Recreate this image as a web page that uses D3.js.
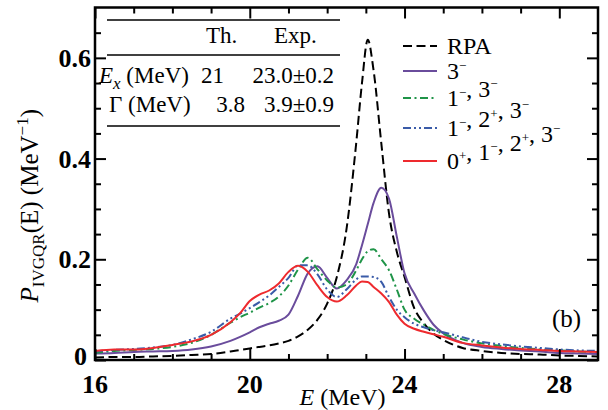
<!DOCTYPE html>
<html>
<head>
<meta charset="utf-8">
<script src="https://cdn.jsdelivr.net/npm/d3@7"></script>
<style>
  body { margin: 0; background: #fff; }
  svg { font-family: "Liberation Serif", "DejaVu Serif", serif; }
</style>
</head>
<body>
<div id="chart"></div>
<script>
// energy grid (MeV)
var energy = [16, 16.5, 17, 17.5, 18, 18.5, 19, 19.5, 19.75, 20, 20.25, 20.5, 20.75, 21, 21.25, 21.5, 21.75, 22, 22.25, 22.5, 22.75, 22.9, 23.05, 23.2, 23.4, 23.6, 23.8, 24, 24.25, 24.5, 24.75, 25, 25.5, 26, 26.5, 27, 27.5, 28, 28.5, 29];

// strength functions (MeV^-1)
var rpa   = [0.005, 0.006, 0.006, 0.007, 0.008, 0.010, 0.012, 0.017, 0.020, 0.023, 0.026, 0.029, 0.033, 0.038, 0.047, 0.060, 0.080, 0.112, 0.165, 0.260, 0.430, 0.550, 0.636, 0.575, 0.430, 0.290, 0.215, 0.165, 0.103, 0.073, 0.052, 0.040, 0.024, 0.018, 0.014, 0.012, 0.011, 0.009, 0.008, 0.007];
var only3 = [0.013, 0.014, 0.016, 0.017, 0.018, 0.021, 0.027, 0.038, 0.046, 0.055, 0.065, 0.072, 0.078, 0.090, 0.128, 0.172, 0.186, 0.163, 0.142, 0.158, 0.190, 0.228, 0.270, 0.312, 0.342, 0.320, 0.245, 0.172, 0.132, 0.098, 0.070, 0.053, 0.034, 0.026, 0.022, 0.019, 0.017, 0.014, 0.013, 0.012];
var m1m3  = [0.0145, 0.018, 0.020, 0.022, 0.026, 0.034, 0.050, 0.074, 0.085, 0.094, 0.104, 0.113, 0.126, 0.148, 0.180, 0.203, 0.180, 0.158, 0.144, 0.150, 0.178, 0.200, 0.216, 0.220, 0.200, 0.178, 0.140, 0.100, 0.082, 0.070, 0.060, 0.052, 0.041, 0.033, 0.028, 0.024, 0.021, 0.019, 0.017, 0.016];
var m1p2m3 = [0.017, 0.020, 0.022, 0.025, 0.030, 0.041, 0.056, 0.082, 0.092, 0.103, 0.115, 0.128, 0.145, 0.163, 0.188, 0.188, 0.170, 0.140, 0.125, 0.140, 0.160, 0.166, 0.166, 0.165, 0.155, 0.125, 0.100, 0.085, 0.072, 0.065, 0.059, 0.055, 0.045, 0.036, 0.031, 0.027, 0.024, 0.021, 0.019, 0.018];
var all4  = [0.018, 0.021, 0.021, 0.024, 0.030, 0.037, 0.050, 0.075, 0.093, 0.117, 0.130, 0.138, 0.152, 0.175, 0.187, 0.175, 0.148, 0.125, 0.116, 0.128, 0.148, 0.156, 0.155, 0.145, 0.132, 0.115, 0.090, 0.072, 0.062, 0.056, 0.051, 0.046, 0.034, 0.029, 0.025, 0.022, 0.020, 0.018, 0.017, 0.016];

var xTicks = [16, 20, 24, 28];
var yTicks = [0, 0.2, 0.4, 0.6];
var yTickLabels = ["0", "0.2", "0.4", "0.6"];

// legend labels: [text, superscript] pieces
var legendLabels = [
  [["RPA", ""]],
  [["3", "\u2212"]],
  [["1", "\u2212"], [", 3", "\u2212"]],
  [["1", "\u2212"], [", 2", "+"], [", 3", "\u2212"]],
  [["0", "+"], [", 1", "\u2212"], [", 2", "+"], [", 3", "\u2212"]]
];

var series = [
  {values: rpa,    color: "#000",    dash: "9,4.5"},
  {values: only3,  color: "#6a4c9c", dash: null},
  {values: m1m3,   color: "#1f9448", dash: "8,3.5,2,3.5"},
  {values: m1p2m3, color: "#3a5ba8", dash: "8,3,2,3,2,3"},
  {values: all4,   color: "#ee2a2e", dash: null}
];

var width = 608, height = 410;
var margin = {left: 95, right: 10, top: 7.5, bottom: 50};

var svg = d3.select("#chart").append("svg")
  .attr("width", width)
  .attr("height", height);

var x = d3.scaleLinear().domain([16, 29]).range([margin.left, width - margin.right]);
var y = d3.scaleLinear().domain([0, 0.7]).range([height - margin.bottom, margin.top]);

svg.append("clipPath").attr("id", "clip")
  .append("rect")
  .attr("x", x(16)).attr("y", y(0.7))
  .attr("width", x(29) - x(16)).attr("height", y(0) - y(0.7));

// curves
var line = d3.line()
  .x(function(d, i) { return x(energy[i]); })
  .y(function(d) { return y(d); })
  .curve(d3.curveMonotoneX);

var plot = svg.append("g").attr("clip-path", "url(#clip)");
series.forEach(function(s) {
  plot.append("path")
    .attr("d", line(s.values))
    .attr("fill", "none")
    .attr("stroke", s.color)
    .attr("stroke-width", 2)
    .attr("stroke-dasharray", s.dash);
});

// axes, ticks pointing inward on all four sides
function tickAxis(axisFn, scale, major, minor, transform) {
  svg.append("g").attr("transform", transform)
    .call(axisFn(scale).tickValues(minor).tickSize(-6).tickFormat(""))
    .call(function(g) { g.select(".domain").remove(); });
  svg.append("g").attr("transform", transform)
    .call(axisFn(scale).tickValues(major).tickSize(-11).tickFormat(""))
    .call(function(g) { g.select(".domain").remove(); });
}
var xMinor = d3.range(17, 29, 1).filter(function(v) { return v % 4 !== 0; });
var yMinor = [0.05, 0.1, 0.15, 0.25, 0.3, 0.35, 0.45, 0.5, 0.55, 0.65];

tickAxis(d3.axisBottom, x, xTicks, xMinor, "translate(0," + y(0) + ")");
tickAxis(d3.axisTop, x, xTicks, xMinor, "translate(0," + y(0.7) + ")");
tickAxis(d3.axisLeft, y, yTicks, yMinor, "translate(" + x(16) + ",0)");
tickAxis(d3.axisRight, y, yTicks, yMinor, "translate(" + x(29) + ",0)");

svg.selectAll(".tick line").attr("stroke", "#000").attr("stroke-width", 2);

svg.append("rect")
  .attr("x", x(16)).attr("y", y(0.7))
  .attr("width", x(29) - x(16)).attr("height", y(0) - y(0.7))
  .attr("fill", "none").attr("stroke", "#000").attr("stroke-width", 2.5);

// tick labels
svg.append("g").selectAll("text")
  .data(xTicks).enter().append("text")
  .attr("x", function(d) { return x(d); })
  .attr("y", y(0) + 33)
  .attr("text-anchor", "middle")
  .attr("font-size", 26).attr("font-weight", "bold")
  .text(function(d) { return d; });

svg.append("g").selectAll("text")
  .data(yTicks).enter().append("text")
  .attr("x", function(d) { return d === 0 ? x(16) - 8 : x(16) - 4; })
  .attr("y", function(d) { return y(d) + (d === 0 ? 5 : 9); })
  .attr("text-anchor", "end")
  .attr("font-size", 26).attr("font-weight", "bold")
  .text(function(d, i) { return yTickLabels[i]; });

// axis titles
var xt = svg.append("text")
  .attr("x", (x(16) + x(29)) / 2 - 4).attr("y", 405)
  .attr("text-anchor", "middle").attr("font-size", 24);
xt.append("tspan").attr("font-style", "italic").text("E");
xt.append("tspan").text(" (MeV)");

var yt = svg.append("text")
  .attr("transform", "translate(38," + ((y(0) + y(0.7)) / 2 + 22) + ") rotate(-90)")
  .attr("text-anchor", "middle").attr("font-size", 25);
yt.append("tspan").attr("font-style", "italic").text("P");
yt.append("tspan").attr("font-size", 17).attr("dy", 6).text("IVGQR");
yt.append("tspan").attr("dy", -6).text("(E) (MeV");
yt.append("tspan").attr("font-size", 17).attr("dy", -10).text("\u22121");
yt.append("tspan").attr("dy", 10).text(")");

// legend
var legend = svg.append("g");
var legendRows = [46, 71, 98, 128, 161];
series.forEach(function(s, i) {
  legend.append("line")
    .attr("x1", 403).attr("x2", 437)
    .attr("y1", legendRows[i]).attr("y2", legendRows[i])
    .attr("stroke", s.color).attr("stroke-width", 2)
    .attr("stroke-dasharray", s.dash);
  var t = legend.append("text")
    .attr("x", 447).attr("y", legendRows[i] + 8)
    .attr("font-size", 24);
  legendLabels[i].forEach(function(p) {
    t.append("tspan").attr("dy", 0).text(p[0]);
    if (p[1]) {
      t.append("tspan").attr("font-size", 13).attr("dy", -9).text(p[1]);
      t.append("tspan").attr("dy", 9).text("");
    }
  });
});

// table of widths
var tab = svg.append("g").attr("font-size", 23);
[20, 55, 126].forEach(function(ly) {
  tab.append("line").attr("x1", 107).attr("x2", 340)
    .attr("y1", ly).attr("y2", ly)
    .attr("stroke", "#000").attr("stroke-width", 1.5);
});
tab.append("text").attr("x", 206).attr("y", 43).text("Th.");
tab.append("text").attr("x", 274).attr("y", 43).text("Exp.");

var r1 = tab.append("text").attr("x", 99).attr("y", 83);
r1.append("tspan").attr("font-style", "italic").text("E");
r1.append("tspan").attr("font-style", "italic").attr("font-size", 17).attr("dy", 6).text("x");
r1.append("tspan").attr("dy", -6).text(" (MeV)");
tab.append("text").attr("x", 224).attr("y", 83).attr("text-anchor", "end").text("21");
tab.append("text").attr("x", 334).attr("y", 83).attr("text-anchor", "end").text("23.0\u00b10.2");

tab.append("text").attr("x", 109).attr("y", 112).text("\u0393 (MeV)");
tab.append("text").attr("x", 245).attr("y", 112).attr("text-anchor", "end").text("3.8");
tab.append("text").attr("x", 334).attr("y", 112).attr("text-anchor", "end").text("3.9\u00b10.9");

svg.append("text").attr("x", 552).attr("y", 327).attr("font-size", 25).text("(b)");
</script>
</body>
</html>
